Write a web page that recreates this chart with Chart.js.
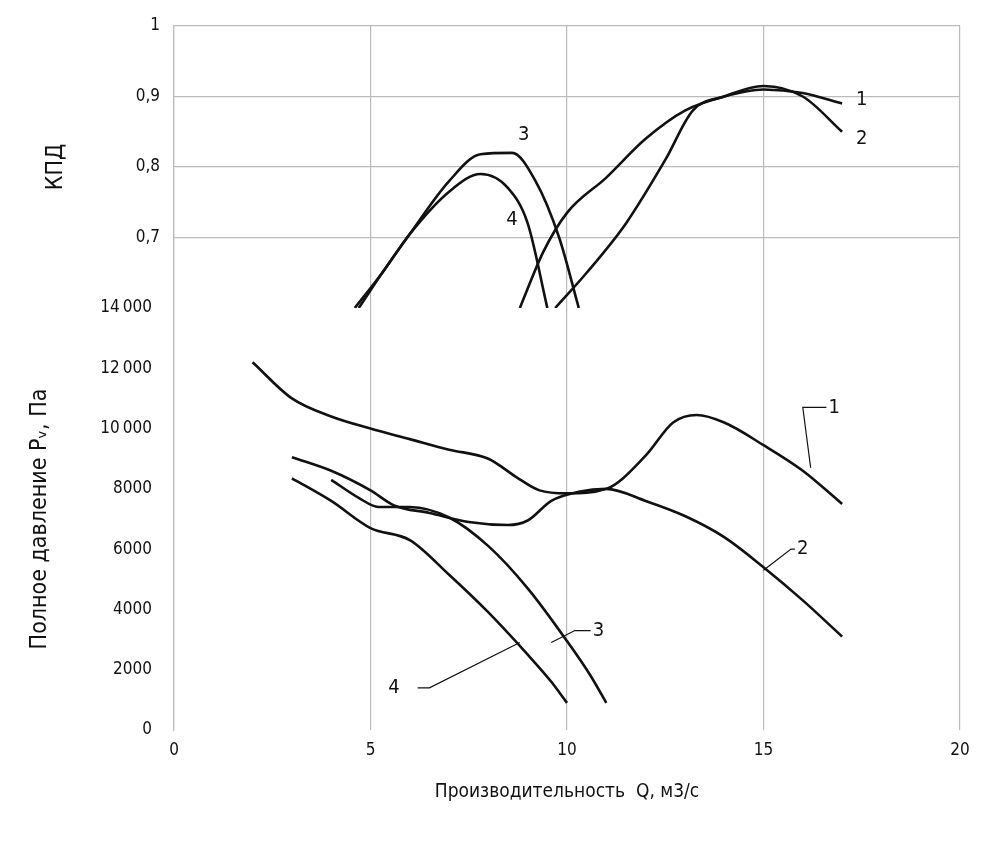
<!DOCTYPE html>
<html><head><meta charset="utf-8">
<script src="https://cdn.jsdelivr.net/npm/chart.js@4"></script>
<style>html,body{margin:0;background:#fff}#w{width:993px;height:841px}</style>
</head><body><div id="w"><canvas id="c"></canvas></div>
<script>
const xTicks=[0,5,10,15,20];
const kpdTicks=[0.7,0.8,0.9,1];
const pTicks=[0,2000,4000,6000,8000,10000,12000,14000];
const kpd1=[[8.8,0.6],[9.4,0.68],[10,0.735],[11,0.785],[12,0.84],[13,0.88],[14,0.9],[15,0.91],[16,0.905],[17,0.89]];
const kpd2=[[9.7,0.6],[10.5,0.65],[11.5,0.72],[12.5,0.81],[13.2,0.88],[14,0.9],[15,0.915],[16,0.9],[17,0.85]];
const kpd3=[[4.7,0.6],[5.3,0.65],[6,0.705],[7,0.78],[7.8,0.818],[8.6,0.82],[9.2,0.78],[9.8,0.7],[10.3,0.6]];
const kpd4=[[4.6,0.6],[5.3,0.65],[6,0.705],[7,0.765],[7.8,0.79],[8.5,0.77],[9,0.72],[9.5,0.6]];
const p1=[[2,12200],[3,11000],[4,10400],[5,10000],[6,9650],[7,9300],[8,9000],[8.7,8400],[9.3,7950],[10,7850],[11,8000],[12,9100],[12.7,10200],[13.3,10450],[14,10200],[15,9450],[16,8600],[17,7500]];
const p2=[[3,9050],[4,8600],[5,7950],[5.6,7450],[6.5,7200],[7.5,6900],[8.5,6800],[9,6950],[9.6,7600],[10.3,7900],[11,8000],[12,7600],[13,7100],[14,6400],[15,5400],[16,4300],[17,3100]];
const p3=[[4,8300],[4.7,7700],[5.2,7400],[6,7400],[7,7050],[8,6100],[9,4700],[10,2950],[10.6,1800],[11,900]];
const p4=[[3,8350],[4,7600],[5,6700],[6,6300],[7,5150],[8,3900],[9,2500],[9.6,1600],[10,900]];
const labels=[
 {t:'1',ax:'yk',x:17.5,y:0.895},
 {t:'2',ax:'yk',x:17.5,y:0.84},
 {t:'3',ax:'yk',x:8.9,y:0.845},
 {t:'4',ax:'yk',x:8.6,y:0.725},
 {t:'1',ax:'yp',x:16.8,y:10700,pts:[[16.2,8700],[16.0,10700],[16.6,10700]]},
 {t:'2',ax:'yp',x:16.0,y:6000,pts:[[15.0,5300],[15.7,6000],[15.8,6000]]},
 {t:'3',ax:'yp',x:10.8,y:3300,pts:[[9.6,2900],[10.2,3300],[10.6,3300]]},
 {t:'4',ax:'yp',x:5.6,y:1400,pts:[[8.8,2900],[6.5,1400],[6.2,1400]]}
];
const font="'DejaVu Sans Condensed','DejaVu Sans',sans-serif";
const ds=(d,ax)=>({data:d.map(p=>({x:p[0],y:p[1]})),yAxisID:ax,borderColor:'#111',borderWidth:2.6,pointRadius:0,tension:0.4,fill:false,cubicInterpolationMode:'monotone'});
const lab={id:'lab',afterDatasetsDraw(c){const g=c.ctx,xs=c.scales.x;g.save();g.fillStyle='#111';g.strokeStyle='#111';g.lineWidth=1.2;g.font='20px '+font;g.textAlign='center';g.textBaseline='middle';
 labels.forEach(l=>{const ys=c.scales[l.ax];if(l.pts){g.beginPath();l.pts.forEach((p,i)=>{const X=xs.getPixelForValue(p[0]),Y=ys.getPixelForValue(p[1]);i?g.lineTo(X,Y):g.moveTo(X,Y)});g.stroke();}
 g.fillText(l.t,xs.getPixelForValue(l.x),ys.getPixelForValue(l.y));});g.restore();}};
const fmt=v=>v>=10000?String(v).slice(0,2)+'\u2009'+String(v).slice(2):String(v);
new Chart(document.getElementById('c'),{type:'line',
 data:{datasets:[ds(kpd1,'yk'),ds(kpd2,'yk'),ds(kpd3,'yk'),ds(kpd4,'yk'),ds(p1,'yp'),ds(p2,'yp'),ds(p3,'yp'),ds(p4,'yp')]},
 options:{responsive:true,maintainAspectRatio:false,animation:false,layout:{padding:{top:26,right:33,left:0,bottom:0}},
  plugins:{legend:{display:false},tooltip:{enabled:false}},
  scales:{
   x:{type:'linear',min:0,max:20,afterBuildTicks:s=>{s.ticks=xTicks.map(v=>({value:v}))},
      grid:{color:'#bbb',lineWidth:1.2,drawTicks:false},border:{display:false},
      ticks:{color:'#111',font:{size:17,family:font},padding:10},
      title:{display:true,text:'Производительность  Q, м3/с',color:'#111',font:{size:19,family:font},padding:{top:14,bottom:38}},
      afterFit:s=>{s.height=111}},
   yp:{type:'linear',position:'left',stack:'s',stackWeight:422,min:0,max:14000,
      afterBuildTicks:s=>{s.ticks=pTicks.map(v=>({value:v}))},
      grid:{display:false},border:{display:true,color:'#bbb',width:1.2},
      ticks:{color:'#111',font:{size:17,family:font},callback:v=>fmt(v),padding:14},
      title:{display:true,text:'Полное давление Pᵥ, Па',color:'#111',font:{size:23,family:font},padding:{top:26,bottom:6}},
      afterFit:s=>{s.width=174}},
   yk:{type:'linear',position:'left',stack:'s',stackWeight:282,min:0.6,max:1,offset:false,
      afterBuildTicks:s=>{s.ticks=kpdTicks.map(v=>({value:v}))},
      grid:{color:'#bbb',lineWidth:1.2,drawTicks:false},border:{display:true,color:'#bbb',width:1.2},
      ticks:{color:'#111',font:{size:17,family:font},callback:v=>String(v).replace('.',','),padding:14},
      title:{display:true,text:'КПД',color:'#111',font:{size:23,family:font},padding:{top:42,bottom:6}},
      afterFit:s=>{s.width=174}}
  }},plugins:[lab]});
</script></body></html>
